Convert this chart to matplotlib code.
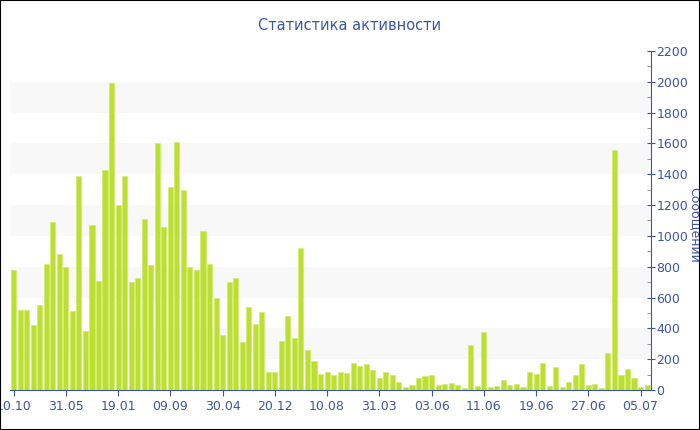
import numpy as np
import matplotlib.pyplot as plt
from matplotlib.patches import Rectangle
from matplotlib.ticker import MultipleLocator

# messages per period
values = [780, 520, 520, 420, 550, 820, 1090, 880, 800, 510,
          1390, 385, 1070, 710, 1430, 1990, 1200, 1390, 700, 730,
          1110, 810, 1600, 1060, 1320, 1610, 1300, 800, 780, 1030,
          820, 600, 360, 700, 730, 310, 540, 430, 505, 115,
          115, 320, 480, 340, 920, 260, 190, 105, 120, 100,
          120, 110, 175, 155, 170, 130, 75, 120, 100, 50,
          20, 35, 75, 90, 95, 35, 40, 45, 30, 15,
          295, 25, 375, 20, 25, 65, 35, 40, 20, 115,
          105, 175, 25, 150, 20, 50, 95, 170, 35, 40,
          10, 240, 1560, 95, 135, 75, 20, 30]
tick_labels = ['10.10', '31.05', '19.01', '09.09', '30.04', '20.12', '10.08',
               '31.03', '03.06', '11.06', '19.06', '27.06', '05.07']
tick_step = 8

blue = '#3e55a0'
bar_color = '#bde030'

fig = plt.figure(figsize=(7, 4.3), dpi=100)
ax = fig.add_axes([10/700, 1 - 390/430, 641/700, 339/430])

x = np.arange(len(values))
for lo in range(200, 2200, 400):
    ax.axhspan(lo, lo + 200, color='#f8f8f8', zorder=0, lw=0)
ax.bar(x, values, width=0.78, color=bar_color, edgecolor='#cfe86a', linewidth=0.4, zorder=2)

ax.set_xlim(-0.55, len(values) - 0.4)
ax.set_ylim(0, 2200)

ax.set_xticks(x[::tick_step])
ax.set_xticklabels(tick_labels)
ax.yaxis.tick_right()
ax.yaxis.set_major_locator(MultipleLocator(200))
ax.yaxis.set_minor_locator(MultipleLocator(100))
ax.tick_params(axis='y', which='major', direction='inout', length=6, color=blue,
               labelcolor=blue, labelsize=9, pad=1)
ax.tick_params(axis='y', which='minor', direction='in', length=3, color='#888888')
ax.tick_params(axis='x', direction='out', length=4, color=blue, labelcolor=blue,
               labelsize=9, pad=3)

for s in ['top', 'left']:
    ax.spines[s].set_visible(False)
ax.spines['bottom'].set_color(blue)
ax.spines['right'].set_color(blue)

fig.text(0.5, 1 - 25/430, 'Статистика активности', ha='center', va='center',
         color=blue, fontsize=10.5)
fig.text(694/700, 1 - 225/430, 'Сообщений', rotation=270, ha='center', va='center',
         color=blue, fontsize=9)

fig.patches.append(Rectangle((0, 0), 1, 1, transform=fig.transFigure, fill=False,
                             edgecolor='black', linewidth=1.5))

plt.savefig('out.png', dpi=100)
plt.close()
